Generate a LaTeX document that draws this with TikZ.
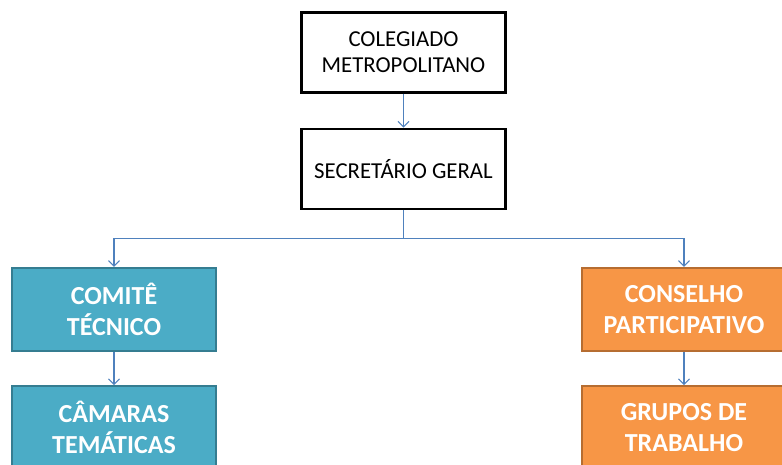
\documentclass[tikz,border=0pt]{standalone}
\usepackage{fontspec}
\setmainfont{Carlito}
\usepackage{tikz}
\usetikzlibrary{shapes, arrows.meta, positioning}
\definecolor{linkblue}{HTML}{4F81BD}
\definecolor{aqua}{HTML}{4BACC6}
\definecolor{aqualine}{HTML}{357D91}
\definecolor{tangerine}{HTML}{F79646}
\definecolor{tangerineline}{HTML}{B66D31}
\tikzstyle{line} = [draw=linkblue, line width=1.1pt, -{Straight Barb[length=5.5pt,width=11pt]}]
\tikzstyle{block} = [draw, rectangle, line width=2.2pt, minimum width=204pt, minimum height=80pt, align=center, font=\fontsize{22.8}{26}\selectfont]
\tikzstyle{aquablock} = [block, fill=aqua, draw=aqualine, text=white, minimum height=83pt, font=\fontsize{26}{31}\selectfont\bfseries]
\tikzstyle{orangeblock} = [aquablock, fill=tangerine, draw=tangerineline]

\begin{document}
\begin{tikzpicture}[x=1pt, y=-1pt]
		\useasboundingbox (0,0) rectangle (782,465);
		\clip (0,0) rectangle (782,465);
		\node[block] (cm) at (403.5,52.5) {COLEGIADO\\METROPOLITANO};
		\node[block, below=34pt of cm] (sg) {SECRETÁRIO GERAL};
		\coordinate[below=29pt of sg] (split);
		\node[aquablock] (ct) at (114,309.5) {COMITÊ\\TÉCNICO};
		\node[aquablock, below=33pt of ct] (cam) {CÂMARAS\\TEMÁTICAS};
		\node[orangeblock] (cp) at (684,309.5) {CONSELHO\\PARTICIPATIVO};
		\node[orangeblock, below=33pt of cp] (gt) {GRUPOS DE\\TRABALHO};
		\draw[line] (cm) -- (sg);
		\draw[draw=linkblue, line width=1.1pt] (sg) -- (split);
		\draw[line] (split) -| (ct);
		\draw[line] (split) -| (cp);
		\draw[line] (ct) -- (cam);
		\draw[line] (cp) -- (gt);
	\end{tikzpicture}
\end{document}
